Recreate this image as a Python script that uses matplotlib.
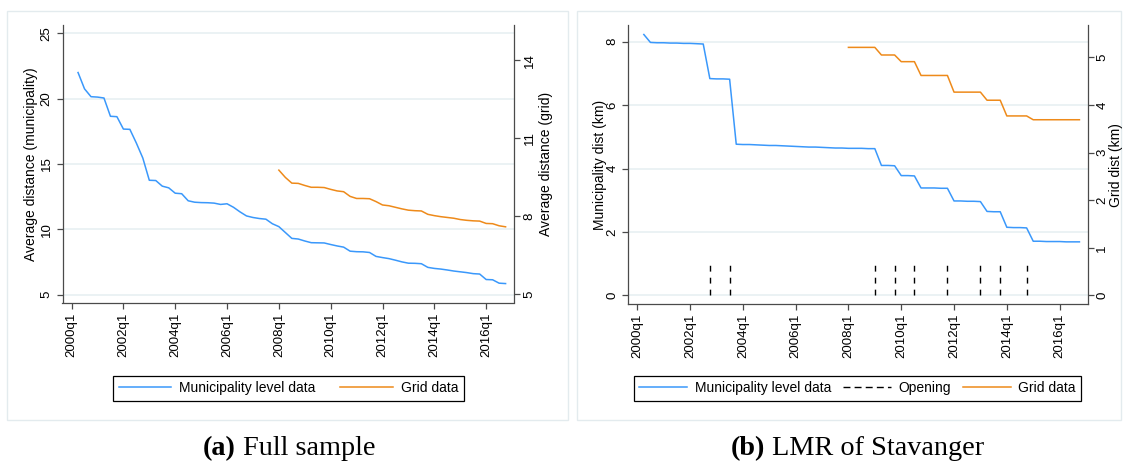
import numpy as np
import matplotlib.pyplot as plt
from matplotlib.lines import Line2D
from matplotlib.patches import Rectangle

# quarter index: 0 = 2000q1
quarters = np.arange(1, 68)          # 2000q2 .. 2016q4
grid_quarters = np.arange(32, 68)    # 2008q1 .. 2016q4

# (a) full sample, average distance
muni_full = [22.0, 20.75, 20.15, 20.12, 20.05, 18.65, 18.62, 17.67, 17.65, 16.6,
             15.45, 13.75, 13.73, 13.3, 13.17, 12.76, 12.72, 12.18, 12.07, 12.04,
             12.03, 12.0, 11.9, 11.95, 11.68, 11.33, 11.02, 10.9, 10.82, 10.77,
             10.42, 10.2, 9.75, 9.3, 9.25, 9.1, 8.97, 8.96, 8.95, 8.83,
             8.72, 8.63, 8.32, 8.28, 8.27, 8.22, 7.92, 7.83, 7.75, 7.63,
             7.5, 7.4, 7.39, 7.36, 7.08, 7.0, 6.95, 6.88, 6.8, 6.74,
             6.68, 6.6, 6.57, 6.15, 6.13, 5.87, 5.84]
grid_full = [9.78, 9.5, 9.28, 9.27, 9.19, 9.12, 9.12, 9.11, 9.04, 8.98,
             8.95, 8.77, 8.69, 8.69, 8.68, 8.57, 8.44, 8.41, 8.35, 8.29,
             8.24, 8.22, 8.21, 8.08, 8.03, 7.99, 7.96, 7.93, 7.88, 7.85,
             7.83, 7.82, 7.73, 7.72, 7.64, 7.6]

# (b) LMR of Stavanger
muni_stav = [8.23, 7.98,
             7.97, 7.97, 7.96, 7.96, 7.95, 7.95, 7.94, 7.93,
             6.84, 6.83, 6.83, 6.82,
             4.77, 4.76, 4.76, 4.75, 4.74, 4.73, 4.73, 4.72, 4.71, 4.70, 4.69,
             4.68, 4.68, 4.67, 4.66, 4.65, 4.65, 4.64, 4.64, 4.64, 4.63, 4.63,
             4.10, 4.10, 4.09,
             3.78, 3.78, 3.77,
             3.39, 3.39, 3.39, 3.38, 3.38,
             2.98, 2.98, 2.97, 2.97, 2.96,
             2.65, 2.64, 2.64,
             2.15, 2.14, 2.14, 2.13,
             1.71, 1.71, 1.70, 1.70, 1.70, 1.69, 1.69, 1.69]
grid_stav = [5.21] * 5 + [5.05] * 3 + [4.91] * 3 + [4.62] * 5 + [4.27] * 5 + \
            [4.10] * 3 + [3.77] * 4 + [3.69] * 8
openings = [11, 14, 36, 39, 42, 47, 52, 55, 59]

tick_quarters = np.arange(0, 65, 8)
tick_labels = [f"{2000 + q // 4}q1" for q in tick_quarters]

BLUE = '#3a98fb'
ORANGE = '#ee8a1a'
GRIDC = '#e6eff1'
AXC = '#4a4a4a'
BOXC = '#e3ebee'

W, H = 1126, 461
plt.rcParams['font.family'] = ['Liberation Sans', 'DejaVu Sans']

fig = plt.figure(figsize=(W / 100, H / 100), dpi=100)


def px_rect(x0, y0, x1, y1):
    return [x0 / W, 1 - y1 / H, (x1 - x0) / W, (y1 - y0) / H]


def make_panel(rect, ylim_l, yticks_l, ylim_r, yticks_r, rpad=3):
    ax = fig.add_axes(rect)
    ax2 = ax.twinx()
    ax.set_xlim(-1.4, 68.3)
    ax.set_ylim(*ylim_l)
    ax2.set_ylim(*ylim_r)
    for s in ['top', 'right']:
        ax.spines[s].set_visible(False)
    for s in ['top', 'left', 'bottom']:
        ax2.spines[s].set_visible(False)
    for sp in [ax.spines['left'], ax.spines['bottom'], ax2.spines['right']]:
        sp.set_color(AXC)
        sp.set_linewidth(0.9)
    ax.set_xticks(tick_quarters)
    ax.set_xticklabels(tick_labels, rotation=90, va='top', ha='center')
    ax.set_yticks(yticks_l)
    ax.set_yticklabels([str(v) for v in yticks_l], rotation=90, va='center')
    ax2.set_yticks(yticks_r)
    ax2.set_yticklabels([str(v) for v in yticks_r], rotation=90, va='center')
    ax.tick_params(direction='out', length=4, width=0.9, color=AXC,
                   labelsize=9.5, labelcolor='black', pad=3)
    ax2.tick_params(direction='out', length=4, width=0.9, color=AXC,
                    labelsize=9.5, labelcolor='black', pad=rpad)
    ax.grid(axis='y', color=GRIDC, lw=1.1)
    ax.set_axisbelow(True)
    return ax, ax2


def caption(xc, y, tag, text):
    kw = dict(family='Liberation Serif', fontsize=20.3, va='baseline', ha='left')
    r = fig.canvas.get_renderer()
    t1 = fig.text(0, y / H, tag, fontweight='bold', **kw)
    t2 = fig.text(0, y / H, '\u00a0' + text, **kw)
    w1 = t1.get_window_extent(r).width
    w2 = t2.get_window_extent(r).width
    x0 = xc - (w1 + w2) / 2
    t1.set_x(x0 / W)
    t2.set_x((x0 + w1) / W)


# panel frames
fig.add_artist(Rectangle((7 / W, 1 - 420 / H), 561 / W, 409 / H,
                         transform=fig.transFigure, fill=False, ec=BOXC, lw=1))
fig.add_artist(Rectangle((577 / W, 1 - 420 / H), 544 / W, 409 / H,
                         transform=fig.transFigure, fill=False, ec=BOXC, lw=1))

# (a) Full sample
axa, axa2 = make_panel(px_rect(62.5, 25, 514, 302.5),
                       (4.39, 25.64), [5, 10, 15, 20, 25],
                       (4.69, 15.36), [5, 8, 11, 14])
axa.plot(quarters, muni_full, color=BLUE, lw=1.1)
axa2.plot(grid_quarters, grid_full, color=ORANGE, lw=1.1)
fig.text(31 / W, 1 - 164 / H, 'Average distance (municipality)', rotation=90,
         ha='center', va='center', fontsize=10)
fig.text(546 / W, 1 - 164 / H, 'Average distance (grid)', rotation=90,
         ha='center', va='center', fontsize=10)

# (b) LMR of Stavanger
axb, axb2 = make_panel(px_rect(628, 25, 1088, 304),
                       (-0.27, 8.53), [0, 2, 4, 6, 8],
                       (-0.18, 5.68), [0, 1, 2, 3, 4, 5], rpad=2)
axb.plot(quarters, muni_stav, color=BLUE, lw=1.1)
axb.vlines(openings, 0, 1, colors='black', lw=1.0, linestyles=(0, (4.2, 4.4)))
axb2.plot(grid_quarters, grid_stav, color=ORANGE, lw=1.1)
fig.text(600 / W, 1 - 165 / H, 'Municipality dist (km)', rotation=90,
         ha='center', va='center', fontsize=10)
fig.text(1116 / W, 1 - 165 / H, 'Grid dist (km)', rotation=90,
         ha='center', va='center', fontsize=10)

# legends
h_muni = Line2D([], [], color=BLUE, lw=1.1)
h_grid = Line2D([], [], color=ORANGE, lw=1.1)
h_open = Line2D([], [], color='black', lw=1.0, dashes=(5, 3))

leg_a = fig.legend([h_muni, h_grid], ['Municipality level data', 'Grid data'],
                   loc='center', bbox_to_anchor=(288.5 / W, 1 - 388.3 / H),
                   ncol=2, fontsize=10, handlelength=3.8, handletextpad=0.55,
                   columnspacing=1.8, borderpad=0.4, fancybox=False,
                   edgecolor='black', framealpha=1)
leg_b = fig.legend([h_muni, h_open, h_grid],
                   ['Municipality level data', 'Opening', 'Grid data'],
                   loc='center', bbox_to_anchor=(857.4 / W, 1 - 388.3 / H),
                   ncol=3, fontsize=10, handlelength=3.45, handletextpad=0.55,
                   columnspacing=0.85, borderpad=0.4, fancybox=False,
                   edgecolor='black', framealpha=1)
for leg in (leg_a, leg_b):
    leg.get_frame().set_linewidth(0.9)

caption(289, 6, '(a)', 'Full sample')
caption(857, 6, '(b)', 'LMR of Stavanger')

fig.savefig('out.png', dpi=100)
